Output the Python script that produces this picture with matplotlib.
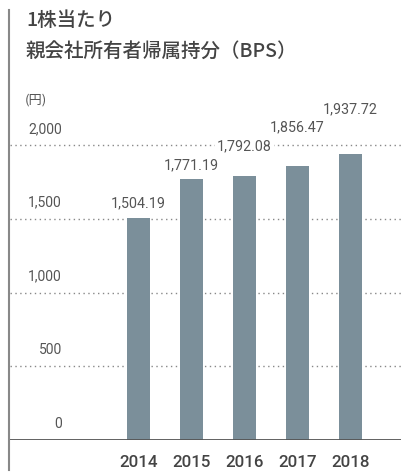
import matplotlib
matplotlib.use("Agg")
import matplotlib.pyplot as plt
from matplotlib.lines import Line2D

plt.rcParams['font.family'] = ['Roboto', 'Noto Sans CJK JP', 'DejaVu Sans']

# ---- data ----
years = ['2014', '2015', '2016', '2017', '2018']
bps = [1504.19, 1771.19, 1792.08, 1856.47, 1937.72]
y_ticks = [0, 500, 1000, 1500, 2000]
y_tick_labels = ['0', '500', '1,000', '1,500', '2,000']
title_line1 = '1株当たり'
title_line2 = '親会社所有者帰属持分（BPS）'
unit_label = '(円)'

# ---- style ----
W, H = 402, 473
DPI = 100
bar_color = '#7b8f9a'
text_dark = '#444444'
text_mid = '#555555'
grid_color = '#888888'
# vertical offset (pixels) of each value label above its bar top
label_offsets_px = [15, 13, 29, 39, 45]

fig = plt.figure(figsize=(W / DPI, H / DPI), dpi=DPI)

# axes placed in pixel geometry
ax_left, ax_right = 10, 402
ax_bottom, ax_top = 440, 10
ax = fig.add_axes([ax_left / W, (H - ax_bottom) / H,
                   (ax_right - ax_left) / W, (ax_bottom - ax_top) / H])
px_per_unit = 295 / 2000
ax.set_ylim(0, (ax_bottom - ax_top) / px_per_unit)
pitch = 53
first_center = 138.5
ax.set_xlim(-(first_center - ax_left) / pitch,
            (len(years) - 1) + (ax_right - (first_center + pitch * (len(years) - 1))) / pitch)
ax.axis('off')

x = list(range(len(years)))

# gridlines
for t in y_ticks[1:]:
    ax.axhline(t, color=grid_color, lw=1.0, ls=(0, (1, 2.5)), zorder=1)
# baseline
ax.axhline(0, color='#555555', lw=1.3, zorder=4)

ax.bar(x, bps, width=23 / pitch, color=bar_color, zorder=3)

# y tick labels
for t, lab in zip(y_ticks, y_tick_labels):
    ax.annotate(lab, xy=(0, t), xycoords=('axes fraction', 'data'),
                xytext=((62 - ax_left) * 72 / DPI, 16 * 72 / DPI), textcoords='offset points',
                ha='right', va='center', fontsize=10, color=text_mid, zorder=5)

# value labels
for xi, v, off in zip(x, bps, label_offsets_px):
    ax.annotate(f'{v:,.2f}', xy=(xi, v), xytext=(0, off * 72 / DPI),
                textcoords='offset points', ha='center', va='center',
                fontsize=10.3, color=text_mid, zorder=6,
                bbox=dict(boxstyle='square,pad=0.15', fc='white', ec='none'))

# year labels
for xi, yr in zip(x, years):
    ax.annotate(yr, xy=(xi, 0), xytext=(0, -22.5 * 72 / DPI), textcoords='offset points',
                ha='center', va='center', fontsize=12.2, fontweight='medium',
                color=text_dark)

# unit label
fig.text(25 / W, 1 - 100 / H, unit_label, ha='left', va='center',
         fontsize=9.5, color=text_mid, family=['Noto Sans CJK JP', 'DejaVu Sans'])

# titles
fig.text(26 / W, 1 - 20 / H, title_line1, ha='left', va='center', fontsize=14,
         fontweight='medium', color=text_dark, family=['Noto Sans CJK JP', 'DejaVu Sans'])
fig.text(26 / W, 1 - 51 / H, title_line2, ha='left', va='center', fontsize=14,
         fontweight='medium', color=text_dark, family=['Noto Sans CJK JP', 'DejaVu Sans'])

# left vertical rule
fig.add_artist(Line2D([9 / W, 9 / W], [1 - 10 / H, 1 - 470 / H],
                      transform=fig.transFigure, color='#888888', lw=1.5))

fig.savefig('out.png', dpi=DPI)
